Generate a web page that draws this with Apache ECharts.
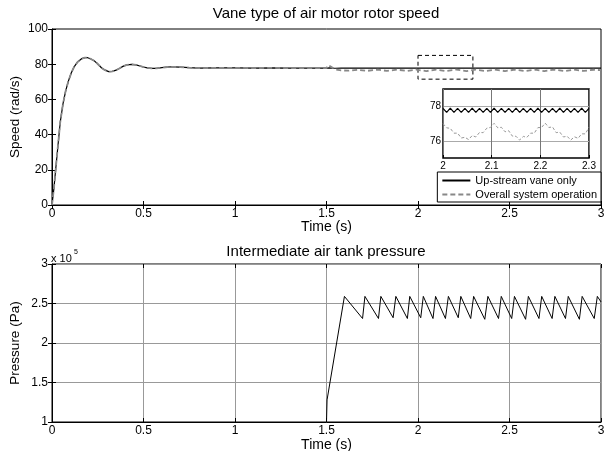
<!DOCTYPE html>
<html>
<head>
<meta charset="utf-8">
<script src="https://cdn.jsdelivr.net/npm/echarts@6/dist/echarts.min.js"></script>
<style>
  html, body { margin: 0; padding: 0; background: #fff; }
  #chart { width: 604px; height: 451px; }
</style>
</head>
<body>
<div id="chart"></div>
<script>
// rotor speed, both cases share the start-up until 1.5 s
const speedTime = [0, 0.01, 0.02, 0.03, 0.045, 0.06, 0.075, 0.09, 0.105, 0.12,
    0.14, 0.16, 0.18, 0.195, 0.21, 0.23, 0.25, 0.27, 0.29, 0.31,
    0.33, 0.35, 0.37, 0.39, 0.41, 0.435, 0.46, 0.48, 0.5, 0.52,
    0.545, 0.57, 0.6, 0.63, 0.66, 0.7, 0.75, 0.8, 0.9, 1.0,
    1.1, 1.2, 1.3, 1.4, 1.5,
    1.51, 1.518, 1.53, 1.55, 1.58, 1.62, 1.67, 1.72, 1.78, 1.83,
    1.885, 1.94, 1.99, 2.045, 2.1, 2.15, 2.21, 2.265, 2.315, 2.37,
    2.42, 2.475, 2.53, 2.585, 2.64, 2.69, 2.745, 2.8, 2.85, 2.905,
    2.96, 3.0]
const vaneSpeed = [0, 9, 20, 31, 47, 57.5, 65, 70.5, 75, 78.3,
    81.3, 83, 83.7, 83.7, 83.1, 82, 80.1, 78, 76.6, 75.8,
    75.9, 76.6, 77.7, 78.9, 79.6, 79.9, 79.6, 79, 78.4, 77.9,
    77.6, 77.6, 78, 78.4, 78.5, 78.3, 78.0, 77.8, 77.9, 77.9,
    77.8, 77.9, 77.8, 77.8, 77.8,
    77.8, 77.9, 77.8, 77.7, 77.8, 77.8, 77.8, 77.8, 77.8, 77.8,
    77.8, 77.8, 77.8, 77.8, 77.8, 77.8, 77.8, 77.8, 77.8, 77.8,
    77.8, 77.8, 77.8, 77.8, 77.8, 77.8, 77.8, 77.8, 77.8, 77.8,
    77.8, 77.8]
const overallSpeed = [0, 9, 20, 31, 47, 57.5, 65, 70.5, 75, 78.3,
    81.3, 83, 83.7, 83.7, 83.1, 82, 80.1, 78, 76.6, 75.8,
    75.9, 76.6, 77.7, 78.9, 79.6, 79.9, 79.6, 79, 78.4, 77.9,
    77.6, 77.6, 78, 78.4, 78.5, 78.3, 78.0, 77.8, 77.9, 77.9,
    77.8, 77.9, 77.8, 77.8, 77.8,
    79.5, 80.6, 78.2, 77.0, 76.5, 76.3, 76.8, 76.2, 76.9, 76.2,
    76.9, 76.2, 76.9, 76.1, 76.9, 76.1, 76.95, 76.1, 76.9, 76.1,
    76.9, 76.1, 76.9, 76.15, 76.9, 76.1, 76.9, 76.1, 76.9, 76.15,
    76.85, 76.6]

// zoomed window 2.0 - 2.3 s
const insetTime = [2, 2.0075, 2.015, 2.0225, 2.03, 2.0375, 2.045, 2.0525, 2.06, 2.0675,
    2.075, 2.0825, 2.09, 2.0975, 2.105, 2.1125, 2.12, 2.1275, 2.135, 2.1425,
    2.15, 2.1575, 2.165, 2.1725, 2.18, 2.1875, 2.195, 2.2025, 2.21, 2.2175,
    2.225, 2.2325, 2.24, 2.2475, 2.255, 2.2625, 2.27, 2.2775, 2.285, 2.2925, 2.3]
const insetVane = [77.88, 77.64, 77.89, 77.65, 77.88, 77.64, 77.88, 77.65, 77.89, 77.64,
    77.88, 77.65, 77.88, 77.64, 77.89, 77.65, 77.88, 77.64, 77.88, 77.65,
    77.89, 77.64, 77.88, 77.65, 77.88, 77.64, 77.89, 77.65, 77.88, 77.64,
    77.88, 77.65, 77.89, 77.64, 77.88, 77.65, 77.88, 77.64, 77.89, 77.65, 77.88]
const insetOverall = [76.99, 76.75, 76.72, 76.44, 76.44, 76.16, 76.20, 76.07, 76.30, 76.22,
    76.48, 76.47, 76.73, 76.77, 77.01, 76.75, 76.78, 76.52, 76.58, 76.27,
    76.26, 76.04, 76.25, 76.20, 76.44, 76.44, 76.76, 76.77, 77.02, 76.77,
    76.80, 76.47, 76.50, 76.22, 76.26, 76.04, 76.23, 76.14, 76.40, 76.40, 76.78]

// intermediate tank pressure (Pa)
const pressureTime = [1.5, 1.503, 1.598, 1.697, 1.71, 1.784, 1.797, 1.864, 1.879, 1.942,
    1.955, 2.015, 2.029, 2.082, 2.096, 2.15, 2.166, 2.22, 2.234, 2.288,
    2.304, 2.365, 2.382, 2.44, 2.455, 2.512, 2.527, 2.588, 2.603, 2.661,
    2.676, 2.733, 2.748, 2.806, 2.821, 2.882, 2.897, 2.963, 2.98, 3.0]
const pressure = [100000, 128000, 259000, 231000, 259000, 231000, 259000, 232000, 259000, 231000,
    259000, 232000, 259000, 231000, 259000, 231000, 259000, 232000, 259000, 231000,
    259000, 230000, 259000, 231000, 259000, 231000, 259000, 230000, 259000, 231000,
    259000, 231000, 259000, 231000, 259000, 230000, 259000, 231000, 259000, 252000]

const legendNames = ['Up-stream vane only', 'Overall system operation']

const font = 'Liberation Sans, Arial, sans-serif'
const pairs = (xs, ys) => xs.map((x, i) => [x, ys[i]])

const txt = (size) => ({color: '#000', fontSize: size, fontFamily: font})
const tick = {show: true, inside: true, length: 4, lineStyle: {color: '#000'}}
const line = {show: true, onZero: false, lineStyle: {color: '#000', width: 1}}
const noSplit = {show: false}
const gridSplit = {show: true, lineStyle: {color: '#999', width: 1}}

// matlab style box: ticks repeated on top / right
function mirror(grid, min, max, interval, pos) {
    return {
        gridIndex: grid, type: 'value', min: min, max: max, interval: interval, position: pos,
        axisLine: {show: false}, axisTick: tick, axisLabel: {show: false}, splitLine: noSplit
    }
}

let option = {
    animation: false,
    backgroundColor: '#fff',
    title: [
        {text: 'Vane type of air motor rotor speed', left: 326, top: 6, padding: 0,
            textAlign: 'center', textStyle: {...txt(15), fontWeight: 'normal'}},
        {text: 'Intermediate air tank pressure', left: 326, top: 244, padding: 0,
            textAlign: 'center', textStyle: {...txt(15), fontWeight: 'normal'}}
    ],
    legend: {
        data: legendNames,
        orient: 'vertical',
        right: 3, top: 172,
        itemWidth: 28, itemHeight: 13, itemGap: 3,
        padding: [3, 4, 2, 4],
        borderColor: '#000', borderWidth: 1, backgroundColor: '#fff',
        itemStyle: {color: 'rgba(0,0,0,0)', borderColor: 'rgba(0,0,0,0)', borderWidth: 0},
        textStyle: txt(11)
    },
    grid: [
        {left: 52, top: 29, width: 549, height: 176, show: true, borderColor: '#000', borderWidth: 1,
            backgroundColor: '#fff', containLabel: false, outerBoundsMode: 'none'},
        {left: 52, top: 264, width: 549, height: 158, show: true, borderColor: '#000', borderWidth: 1,
            backgroundColor: '#fff', containLabel: false, outerBoundsMode: 'none'},
        {left: 443, top: 89, width: 146, height: 69, show: true, borderColor: '#000', borderWidth: 1.5,
            backgroundColor: '#fff', containLabel: false, outerBoundsMode: 'none'}
    ],
    xAxis: [
        {gridIndex: 0, type: 'value', min: 0, max: 3, interval: 0.5, position: 'bottom',
            name: 'Time (s)', nameLocation: 'middle', nameGap: 15, nameTextStyle: txt(14), nameMoveOverlap: false,
            axisLine: line, axisTick: tick, axisLabel: {...txt(12), margin: 3}, splitLine: noSplit},
        mirror(0, 0, 3, 0.5, 'top'),
        {gridIndex: 1, type: 'value', min: 0, max: 3, interval: 0.5, position: 'bottom',
            name: 'Time (s)', nameLocation: 'middle', nameGap: 16, nameTextStyle: txt(14), nameMoveOverlap: false,
            axisLine: line, axisTick: tick, axisLabel: {...txt(12), margin: 3}, splitLine: gridSplit},
        mirror(1, 0, 3, 0.5, 'top'),
        {gridIndex: 2, type: 'value', min: 2, max: 2.3, interval: 0.1, position: 'bottom',
            axisLine: {show: false}, axisTick: {show: true, inside: true, length: 3, lineStyle: {color: '#000'}},
            axisLabel: {...txt(10), margin: 3}, splitLine: {show: true, lineStyle: {color: '#777', width: 1}}}
    ],
    yAxis: [
        {gridIndex: 0, type: 'value', min: 0, max: 100, interval: 20, position: 'left',
            name: 'Speed (rad/s)', nameLocation: 'middle', nameGap: 30, nameTextStyle: txt(13.5), nameMoveOverlap: false,
            axisLine: line, axisTick: tick, axisLabel: {...txt(12), margin: 4}, splitLine: noSplit},
        mirror(0, 0, 100, 20, 'right'),
        {gridIndex: 1, type: 'value', min: 100000, max: 300000, interval: 50000, position: 'left',
            name: 'Pressure (Pa)', nameLocation: 'middle', nameGap: 30, nameTextStyle: txt(13.5), nameMoveOverlap: false,
            axisLine: line, axisTick: tick,
            axisLabel: {...txt(12), margin: 4, formatter: v => String(v / 100000)}, splitLine: gridSplit},
        mirror(1, 100000, 300000, 50000, 'right'),
        {gridIndex: 2, type: 'value', min: 75, max: 79, interval: 1, position: 'left',
            axisLine: {show: false}, axisTick: {show: false},
            axisLabel: {...txt(10), margin: 2, formatter: v => (v === 76 || v === 78) ? String(v) : ''},
            splitLine: {show: true, lineStyle: {color: ['rgba(0,0,0,0)', '#aaa'], width: 1}}}
    ],
    graphic: [
        {type: 'text', left: 51, top: 253, style: {text: 'x 10', font: '11px ' + font, fill: '#000'}},
        {type: 'text', left: 74, top: 249, style: {text: '5', font: '7px ' + font, fill: '#000'}}
    ],
    series: [
        {type: 'line', name: legendNames[0], xAxisIndex: 0, yAxisIndex: 0, z: 2,
            symbol: 'none', lineStyle: {color: '#000', width: 1.2}, itemStyle: {color: '#000'},
            data: pairs(speedTime, vaneSpeed)},
        {type: 'line', name: legendNames[1], xAxisIndex: 0, yAxisIndex: 0, z: 3,
            symbol: 'none', lineStyle: {color: '#888', width: 1.8, type: [5, 3]}, itemStyle: {color: '#888'},
            data: pairs(speedTime, overallSpeed),
            markArea: {
                silent: true, label: {show: false},
                itemStyle: {color: 'rgba(0,0,0,0)', borderColor: '#000', borderWidth: 1, borderType: [4, 3]},
                data: [[{xAxis: 2, yAxis: 85}, {xAxis: 2.3, yAxis: 71.5}]]
            }},
        {type: 'line', xAxisIndex: 2, yAxisIndex: 2, symbol: 'none',
            lineStyle: {color: '#000', width: 1}, data: pairs(pressureTime, pressure)},
        {type: 'line', xAxisIndex: 4, yAxisIndex: 4, symbol: 'none', z: 4,
            lineStyle: {color: '#000', width: 1.2}, data: pairs(insetTime, insetVane)},
        {type: 'line', xAxisIndex: 4, yAxisIndex: 4, symbol: 'none', z: 4,
            lineStyle: {color: '#999', width: 1, type: [3, 2]}, data: pairs(insetTime, insetOverall)}
    ]
}

echarts.init(document.getElementById('chart'), null, {renderer: 'canvas'}).setOption(option)
</script>
</body>
</html>
